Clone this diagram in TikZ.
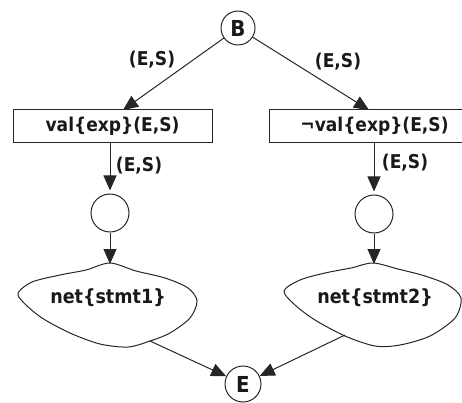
\documentclass[tikz,border=0pt]{standalone}
\usepackage{fontspec}
\newfontfamily\labfont{DejaVu Sans Condensed}[BoldFont={DejaVu Sans Condensed Bold}]
\usetikzlibrary{arrows.meta}

\begin{document}
\begin{tikzpicture}[x=1pt,y=-1pt,
  every node/.style={font=\labfont\bfseries\fontsize{19}{21}\selectfont, text=black!90},
  place/.style={circle, draw=black!85, minimum size=38pt, inner sep=0pt, line width=1pt},
  trans/.style={draw=black!85, minimum height=33pt, inner sep=0pt, line width=1pt},
  arc/.style={draw=black!85, line width=1pt, -{Triangle[length=15pt,width=13pt]}},
  blob/.style={draw=black!85, line width=1pt},
  letter/.style={font=\labfont\bfseries\fontsize{22}{24}\selectfont},
  netlabel/.style={font=\labfont\bfseries\fontsize{19.5}{21}\selectfont}
]
\clip (0,0) rectangle (462,403);

% start and end places
\node[place, minimum size=34pt, letter] (B) at (238,28) {B};
\node[place, minimum size=36pt, letter] (E) at (243,384) {E};

% guard transitions
\node[trans, minimum width=199pt] (t1) at (112.5,126.5) {val\{exp\}(E,S)};
\node[trans, minimum width=211pt] (t2) at (374.5,126.5) {¬val\{exp\}(E,S)};

% intermediate places
\node[place] (c1) at (110,213) {};
\node[place] (c2) at (374,214) {};

% sub-nets, drawn as hand-made closed curves
\draw[blob] plot[smooth cycle, tension=0.5] coordinates {
  (18,293) (32,282) (60,275) (86,270) (110,263) (136,271) (165,278)
  (188,288) (197,301) (190,318) (170,333) (150,341) (128,347) (100,344)
  (70,333) (42,318) (24,303)};
\node[netlabel] (n1) at (108,298) {net\{stmt1\}};
\draw[blob] plot[smooth cycle, tension=0.5] coordinates {
  (284,291) (300,280) (325,273) (351,268) (373,263) (398,269) (425,276)
  (448,285) (461,298) (455,318) (430,336) (400,345) (375,346) (345,336)
  (315,320) (295,305)};
\node[netlabel] (n2) at (375,298) {net\{stmt2\}};

% attachment points on the transitions and sub-nets
\coordinate (a1) at (123,110);
\coordinate (a2) at (369,110);
\coordinate (k1) at (110,264);
\coordinate (k2) at (374,264);
\coordinate (x1) at (150,341);
\coordinate (x2) at (345,335);

% arcs
\draw[arc] (B) -- (a1);
\draw[arc] (B) -- (a2);
\draw[arc, shorten >=3pt] (t1.south -| c1) -- (c1);
\draw[arc, shorten >=3pt] (t2.south -| c2) -- (c2);
\draw[arc] (c1) -- (k1);
\draw[arc] (c2) -- (k2);
\draw[arc] (x1) -- (E);
\draw[arc] (x2) -- (E);

% arc inscriptions
\node (l1) at (152,60) {(E,S)};
\node (l2) at (338,62) {(E,S)};
\node (l3) at (139,166) {(E,S)};
\node (l4) at (405,163) {(E,S)};
\end{tikzpicture}
\end{document}
